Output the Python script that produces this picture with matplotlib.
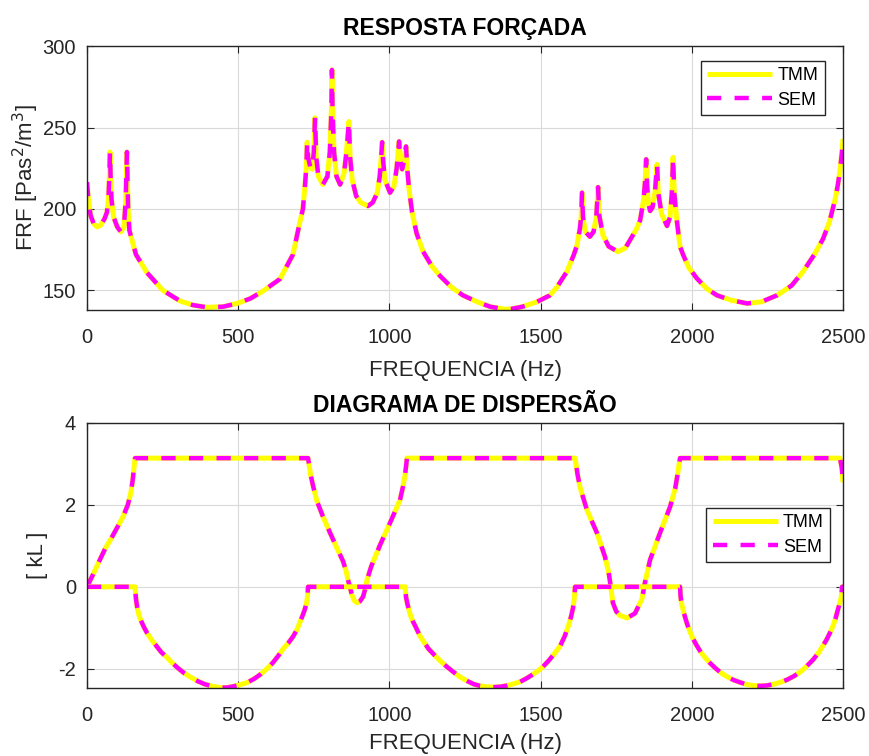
import numpy as np
import matplotlib
matplotlib.use("Agg")
import matplotlib.pyplot as plt

plt.rcParams['font.family'] = ['Liberation Sans', 'DejaVu Sans']
plt.rcParams['axes.unicode_minus'] = False

# FRF
frf_freq = [0, 5, 12, 22, 33, 45, 58, 66, 71, 74, 76, 78, 81, 88, 100, 112, 122, 128, 132, 136,
            140, 150, 162, 198, 251, 308, 350, 397, 450, 496, 540, 582, 638, 681, 704, 714, 721,
            725, 728, 731, 738, 745, 750, 754, 758, 765, 780, 795, 803, 808, 810, 812, 817, 825,
            837, 850, 858, 866, 870, 877, 890, 905, 929, 945, 960, 968, 973, 976, 979, 985, 1002,
            1015, 1024, 1032, 1036, 1042, 1048, 1055, 1059, 1065, 1075, 1090, 1111, 1140, 1167,
            1205, 1243, 1290, 1333, 1380, 1399, 1440, 1488, 1531, 1554, 1587, 1610, 1620, 1630,
            1634, 1637, 1640, 1648, 1663, 1675, 1684, 1690, 1694, 1706, 1725, 1756, 1780, 1796,
            1815, 1829, 1840, 1846, 1849, 1852, 1857, 1862, 1870, 1878, 1885, 1889, 1900, 1918,
            1928, 1934, 1938, 1942, 1951, 1961, 1971, 1990, 2017, 2050, 2083, 2130, 2183, 2230,
            2282, 2330, 2368, 2405, 2434, 2455, 2474, 2483, 2490, 2496, 2500]
frf_val = [216.5, 205, 196, 191, 189, 190, 194, 198, 207, 220, 235, 220, 206, 195, 189, 186, 189,
           205, 235, 200, 187, 180, 172, 161, 150, 143.5, 141, 139.6, 140, 142, 145, 149.6, 157,
           172, 192, 200, 215, 225, 241, 232, 226, 224.4, 235, 256, 232, 220, 215, 220, 235, 260,
           285.4, 260, 235, 220, 215, 222, 235, 253.7, 232, 218, 208, 204, 201.8, 204, 210, 220,
           232, 241, 230, 218, 210, 214, 225, 241.5, 230, 224.4, 229, 238.4, 225, 212, 198, 185,
           174, 165, 159, 152, 147, 143, 140, 138.5, 138.5, 140, 143, 147, 152, 161.6, 172,
           177.5, 188, 195, 210, 195, 186, 183, 186, 195, 213.4, 196, 184, 177, 173.8, 176, 181,
           187, 193, 205, 218, 230.5, 215, 203, 198.8, 201, 210, 227.4, 210, 197, 189.6, 195,
           210, 231.7, 210, 192, 177, 172, 164, 157.3, 151, 147, 144, 142, 143, 147, 153, 161.6,
           172, 181.7, 192, 206, 215, 224, 234, 243]

# dispersion diagram, real part of kL
re_freq = [0, 20, 40, 60, 80, 100, 119, 135, 145, 151, 156, 159, 731, 734, 739, 748, 760, 780,
           803, 825, 847, 857, 863, 870, 876, 884, 893, 903, 913, 920, 926, 940, 969, 1002, 1035,
           1045, 1052, 1056, 1058, 1614, 1617, 1622, 1630, 1653, 1686, 1713, 1725, 1732, 1739,
           1750, 1762, 1786, 1812, 1825, 1835, 1840, 1845, 1862, 1895, 1928, 1945, 1953, 1958,
           1961, 2490, 2496, 2500]
re_val = [0, 0.3, 0.62, 0.93, 1.18, 1.45, 1.71, 2.0, 2.3, 2.6, 2.95, 3.1416, 3.1416, 3.0, 2.75,
          2.45, 2.1, 1.72, 1.33, 0.97, 0.62, 0.38, 0.17, -0.02, -0.2, -0.34, -0.39, -0.35, -0.24,
          -0.05, 0.17, 0.5, 1.02, 1.56, 2.12, 2.45, 2.75, 3.0, 3.1416, 3.1416, 3.0, 2.75, 2.44,
          1.88, 1.32, 0.73, 0.35, 0.0, -0.39, -0.6, -0.7, -0.76, -0.65, -0.45, -0.3, -0.1, 0.1,
          0.66, 1.32, 1.95, 2.4, 2.75, 3.0, 3.1416, 3.1416, 2.9, 2.55]

# dispersion diagram, imaginary part of kL
im_freq = [0, 159, 162, 166, 172, 180, 188, 198, 214, 230, 246, 264, 282, 300, 320, 341, 365,
           390, 415, 440, 463, 485, 507, 529, 552, 575, 595, 615, 633, 650, 667, 681, 694, 705,
           713, 720, 726, 729, 731, 1052, 1055, 1059, 1064, 1070, 1078, 1085, 1101, 1115, 1130,
           1148, 1167, 1188, 1210, 1233, 1257, 1280, 1300, 1322, 1343, 1366, 1390, 1410, 1432,
           1450, 1470, 1490, 1508, 1527, 1545, 1565, 1580, 1592, 1601, 1607, 1611, 1614, 1961,
           1963, 1966, 1971, 1978, 1985, 1994, 2004, 2016, 2030, 2044, 2060, 2080, 2100, 2118,
           2136, 2158, 2180, 2202, 2225, 2248, 2270, 2293, 2315, 2338, 2360, 2381, 2401, 2418,
           2430, 2445, 2457, 2467, 2475, 2483, 2490, 2494, 2497, 2500]
im_val = [0, 0, -0.3, -0.5, -0.7, -0.85, -0.98, -1.12, -1.3, -1.45, -1.6, -1.72, -1.86, -1.98,
          -2.1, -2.2, -2.3, -2.38, -2.43, -2.46, -2.46, -2.43, -2.39, -2.34, -2.25, -2.13, -2.0,
          -1.85, -1.68, -1.5, -1.36, -1.22, -1.05, -0.85, -0.7, -0.56, -0.4, -0.25, 0, 0, -0.25,
          -0.4, -0.55, -0.7, -0.85, -0.95, -1.2, -1.36, -1.52, -1.66, -1.8, -1.94, -2.07, -2.2,
          -2.3, -2.38, -2.42, -2.44, -2.45, -2.44, -2.41, -2.37, -2.32, -2.25, -2.16, -2.06,
          -1.95, -1.8, -1.64, -1.44, -1.2, -0.95, -0.72, -0.52, -0.3, 0, 0, -0.25, -0.4, -0.56,
          -0.75, -0.92, -1.1, -1.27, -1.43, -1.6, -1.73, -1.86, -2.0, -2.12, -2.2, -2.27, -2.33,
          -2.38, -2.41, -2.42, -2.41, -2.38, -2.33, -2.27, -2.18, -2.07, -1.93, -1.78, -1.62,
          -1.48, -1.3, -1.12, -0.95, -0.78, -0.56, -0.38, -0.25, 0, 0]

x_ticks = [0, 500, 1000, 1500, 2000, 2500]
dark = '#262626'

fig = plt.figure(figsize=(8.69, 7.56), dpi=100)
ax1 = fig.add_axes([0.1001, 0.590, 0.870, 0.349])
ax2 = fig.add_axes([0.1001, 0.090, 0.870, 0.3505])

tmm_kw = dict(color=(1, 1, 0), lw=3.6, solid_capstyle='butt', solid_joinstyle='round')
sem_kw = dict(color=(1, 0, 1), lw=3.2, dashes=(3.2, 3.0))

ax1.plot(frf_freq, frf_val, label='TMM', **tmm_kw)
ax1.plot(frf_freq, frf_val, label='SEM', **sem_kw)

ax2.plot(re_freq, re_val, label='TMM', **tmm_kw)
ax2.plot(re_freq, re_val, **sem_kw)
ax2.plot(im_freq, im_val, **tmm_kw)
ax2.plot(im_freq, im_val, label='SEM', **sem_kw)

ax1.set_ylim(138, 300)
ax1.set_yticks([150, 200, 250, 300])
ax2.set_ylim(-2.47, 4)
ax2.set_yticks([-2, 0, 2, 4])

for ax in (ax1, ax2):
    ax.set_xlim(0, 2500)
    ax.set_xticks(x_ticks)
    ax.grid(True, color='#dadada', lw=0.8)
    ax.set_axisbelow(True)
    ax.tick_params(direction='in', top=True, right=True, labelsize=14.5, colors=dark,
                   length=5, width=0.8, pad=8)
    ax.tick_params(axis='x', pad=13)
    for sp in ax.spines.values():
        sp.set_color(dark)
        sp.set_linewidth(1.0)

ax1.set_xlabel('FREQUENCIA (Hz)', fontsize=16, color=dark, labelpad=9)
ax2.set_xlabel('FREQUENCIA (Hz)', fontsize=16, color=dark, labelpad=6)
ax1.set_ylabel('FRF [Pas$^2$/m$^3$]', fontsize=16, color=dark, labelpad=1)
ax2.set_ylabel('[ kL ]', fontsize=16, color=dark, labelpad=7)
ax1.set_title('RESPOSTA FORÇADA', fontsize=16.5, fontweight='bold', pad=8)
ax2.set_title('DIAGRAMA DE DISPERSÃO', fontsize=16.5, fontweight='bold', pad=8)

h1, l1 = ax1.get_legend_handles_labels()
h2, l2 = ax2.get_legend_handles_labels()
for ax, h, l, anchor in ((ax1, h1, l1, (0.976, 0.943)), (ax2, h2, l2, (0.983, 0.679))):
    leg = ax.legend(h, l, loc='upper right', bbox_to_anchor=anchor, fontsize=13,
                    fancybox=False, framealpha=1, edgecolor=dark, handlelength=3.6,
                    borderpad=0.35, labelspacing=0.4, handletextpad=0.3, borderaxespad=0)
    leg.get_frame().set_linewidth(1.0)

fig.savefig('out.png', dpi=100)
